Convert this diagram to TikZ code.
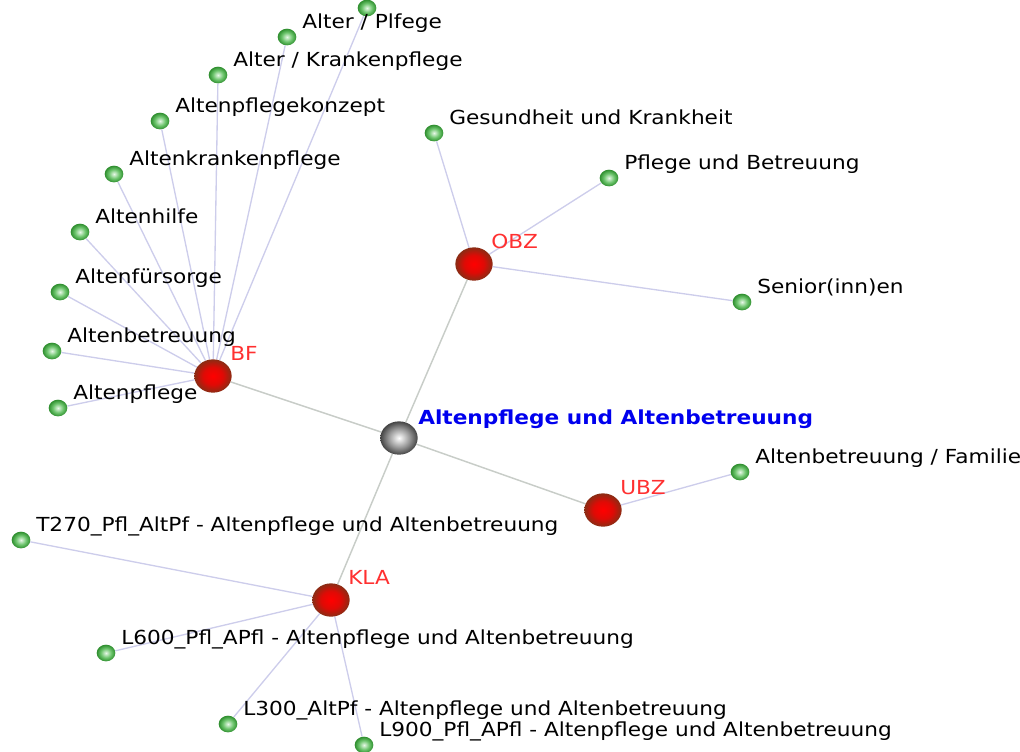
\documentclass[tikz,border=0pt]{standalone}
\usepackage{fontspec}
\setmainfont[FakeStretch=1.12]{DejaVu Sans}
\usetikzlibrary{shapes.geometric,backgrounds}
\definecolor{leafedge}{HTML}{CDCDEB}
\definecolor{hubedge}{HTML}{C8CDC8}
\definecolor{hubtext}{HTML}{FF3030}
\definecolor{roottext}{HTML}{0000EE}
\definecolor{leaflite}{HTML}{E8F8E8}
\definecolor{leafmid}{HTML}{6CC46C}
\definecolor{leafdark}{HTML}{2E8E2E}
\definecolor{hublite}{HTML}{FF0000}
\definecolor{hubmid}{HTML}{E00A05}
\definecolor{hubdark}{HTML}{8A2C14}
\definecolor{rootlite}{HTML}{FFFFFF}
\definecolor{rootmid}{HTML}{9A9A9A}
\definecolor{rootdark}{HTML}{444444}
\pgfdeclareradialshading{leafball}{\pgfpoint{0bp}{0bp}}{color(0bp)=(leaflite); color(14bp)=(leafmid); color(25bp)=(leafdark); color(50bp)=(leafdark)}
\pgfdeclareradialshading{hubball}{\pgfpoint{0bp}{0bp}}{color(0bp)=(hublite); color(13bp)=(hubmid); color(25bp)=(hubdark); color(50bp)=(hubdark)}
\pgfdeclareradialshading{rootball}{\pgfpoint{0bp}{0bp}}{color(0bp)=(rootlite); color(14bp)=(rootmid); color(25bp)=(rootdark); color(50bp)=(rootdark)}
\begin{document}
\begin{tikzpicture}[x=0.75pt, y=-0.75pt,
    leaf/.style={ellipse, minimum width=14pt, minimum height=12.5pt, inner sep=0pt, shading=leafball},
    hub/.style={ellipse, minimum width=28pt, minimum height=25pt, inner sep=0pt, shading=hubball},
    root/.style={ellipse, minimum width=28pt, minimum height=25pt, inner sep=0pt, shading=rootball},
    lbl/.style={anchor=base west, inner sep=0pt, font=\fontsize{14.5}{17}\selectfont},
    hublbl/.style={lbl, text=hubtext},
    rootlbl/.style={lbl, text=roottext, font=\fontsize{14.5}{17}\selectfont\bfseries},
    leafline/.style={draw=leafedge, line width=1pt},
    hubline/.style={draw=hubedge, line width=1.1pt}]
    \useasboundingbox (0,0) rectangle (1020,751);
    % centre and the four groups
    \node[rootlbl] (troot) at (418,424) {Altenpflege und Altenbetreuung};
    \node[root] (root) at (399,438) {};
    \foreach \h/\x/\y/\t in {bf/213/376/BF, obz/474/264/OBZ, ubz/603/510/UBZ, kla/331/600/KLA}{
        \node[hublbl] (t\h) at (\x+17,\y-16) {\t};
        \node[hub] (\h) at (\x,\y) {};
        \begin{scope}[on background layer]
            \draw[hubline] (root) -- (\h);
        \end{scope}
    }
    % leaves
    \foreach \i/\h/\x/\y/\t in {
        1/bf/367/8/{},
        2/bf/287/37/{Alter / Plfege},
        3/bf/218/75/{Alter / Krankenpflege},
        4/bf/160/121/{Altenpflegekonzept},
        5/bf/114/174/{Altenkrankenpflege},
        6/bf/80/232/{Altenhilfe},
        7/bf/60/292/{Altenfürsorge},
        8/bf/52/351/{Altenbetreuung},
        9/bf/58/408/{Altenpflege},
        10/obz/434/133/{Gesundheit und Krankheit},
        11/obz/609/178/{Pflege und Betreuung},
        12/obz/742/302/{Senior(inn)en},
        13/ubz/740/472/{Altenbetreuung / Familie},
        14/kla/21/540/{T270\_Pfl\_AltPf - Altenpflege und Altenbetreuung},
        15/kla/106/653/{L600\_Pfl\_APfl - Altenpflege und Altenbetreuung},
        16/kla/228/724/{L300\_AltPf - Altenpflege und Altenbetreuung},
        17/kla/364/745/{L900\_Pfl\_APfl - Altenpflege und Altenbetreuung}}{
        \node[lbl] (t\i) at (\x+15,\y-9) {\t};
        \node[leaf] (g\i) at (\x,\y) {};
        \begin{scope}[on background layer]
            \draw[leafline] (\h) -- (g\i);
        \end{scope}
    }
\end{tikzpicture}
\end{document}
